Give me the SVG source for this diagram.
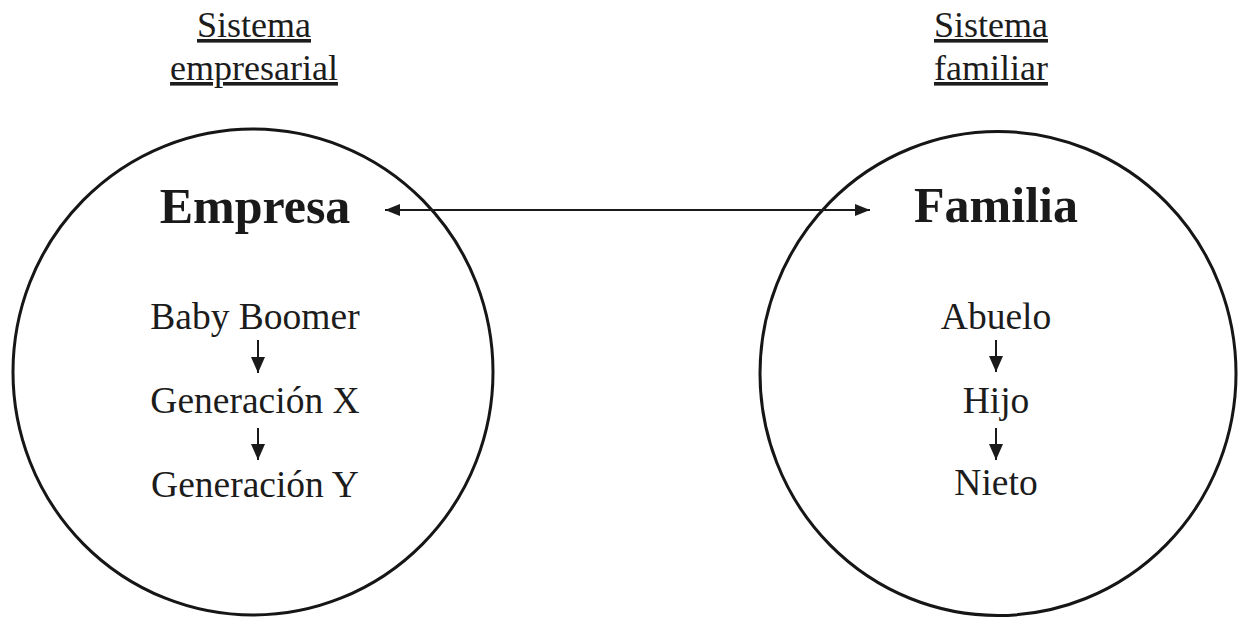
<svg xmlns="http://www.w3.org/2000/svg" width="1239" height="618" viewBox="0 0 1239 618">
  <style>
    .ring { fill: none; stroke: #161616; stroke-width: 3; }
    .head { font-family: "Liberation Serif", "Times New Roman", serif; font-size: 36px; fill: #1c1c1c; text-anchor: middle; text-decoration: underline; }
    .title { font-family: "Liberation Serif", "Times New Roman", serif; font-size: 50px; font-weight: bold; fill: #1a1a1a; text-anchor: middle; }
    .item { font-family: "Liberation Serif", "Times New Roman", serif; font-size: 37.5px; fill: #1c1c1c; text-anchor: middle; }
    .link { stroke: #1a1a1a; stroke-width: 2; fill: none; }
  </style>
  <defs>
    <marker id="tip" viewBox="0 0 15 12" refX="15" refY="6" markerWidth="15" markerHeight="12" markerUnits="userSpaceOnUse" orient="auto-start-reverse">
      <path d="M0,0 L15,6 L0,12 Z" fill="#1a1a1a"/>
    </marker>
    <marker id="tipDown" viewBox="0 0 16 14" refX="16" refY="7" markerWidth="16" markerHeight="14" markerUnits="userSpaceOnUse" orient="auto">
      <path d="M0,0 L16,7 L0,14 Z" fill="#1a1a1a"/>
    </marker>
  </defs>

  <!-- column headings -->
  <g id="heading-empresarial">
    <text class="head" x="254" y="37">Sistema</text>
    <text class="head" x="254" y="80">empresarial</text>
  </g>
  <g id="heading-familiar">
    <text class="head" x="991" y="37">Sistema</text>
    <text class="head" x="991" y="80">familiar</text>
  </g>

  <!-- business system -->
  <g id="empresa">
    <ellipse class="ring" cx="253" cy="372" rx="240" ry="243"/>
    <text class="title" x="255" y="223">Empresa</text>
    <text class="item" x="255" y="329">Baby Boomer</text>
    <text class="item" x="255" y="413">Generación X</text>
    <text class="item" x="255" y="497">Generación Y</text>
  </g>

  <!-- family system -->
  <g id="familia">
    <ellipse class="ring" cx="998" cy="373.5" rx="238" ry="242"/>
    <text class="title" x="996" y="222">Familia</text>
    <text class="item" x="996" y="329">Abuelo</text>
    <text class="item" x="996" y="413">Hijo</text>
    <text class="item" x="996" y="495">Nieto</text>
  </g>

  <!-- connectors -->
  <g id="connectors">
    <line class="link" x1="385" y1="210" x2="870" y2="210" marker-start="url(#tip)" marker-end="url(#tip)"/>
    <line class="link" x1="258" y1="340" x2="258" y2="373" marker-end="url(#tipDown)"/>
    <line class="link" x1="258" y1="428" x2="258" y2="460" marker-end="url(#tipDown)"/>
    <line class="link" x1="996" y1="340" x2="996" y2="372" marker-end="url(#tipDown)"/>
    <line class="link" x1="996" y1="428" x2="996" y2="460" marker-end="url(#tipDown)"/>
  </g>
</svg>
